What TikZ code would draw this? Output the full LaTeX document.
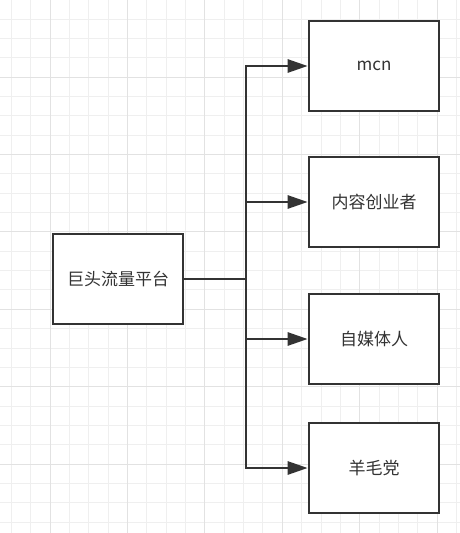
\documentclass[tikz,border=0pt]{standalone}
\usepackage{fontspec}
\setmainfont{Noto Sans CJK SC}
\usetikzlibrary{arrows.meta}
\definecolor{ink}{HTML}{333333}
\definecolor{gridminor}{HTML}{EFEFEF}
\definecolor{gridmajor}{HTML}{E2E2E2}
\begin{document}
\begin{tikzpicture}[x=1pt,y=-1pt,
  box/.style={draw=ink,line width=2.6pt,fill=white,minimum width=130pt,minimum height=90pt,inner sep=0pt,font=\fontsize{17}{20}\selectfont,text=ink},
  conn/.style={draw=ink,line width=2.6pt},
  arr/.style={conn,-{Triangle[length=20pt,width=13pt]}}]
\useasboundingbox (0,0) rectangle (460,533);
\fill[white] (0,0) rectangle (460,533);
% minor grid
\foreach \i in {-1,...,24} {
  \draw[gridminor,line width=0.8pt] ({11.3+19.35*\i},0) -- ({11.3+19.35*\i},533);
}
\foreach \i in {0,...,28} {
  \draw[gridminor,line width=0.8pt] (0,{-0.4+19.35*\i}) -- (460,{-0.4+19.35*\i});
}
% major grid
\foreach \i in {0,...,5} {
  \draw[gridmajor,line width=1pt] ({50+77.4*\i},0) -- ({50+77.4*\i},533);
}
\foreach \i in {0,...,6} {
  \draw[gridmajor,line width=1pt] (0,{77+77.4*\i}) -- (460,{77+77.4*\i});
}
\node[box] (main) at (118,279) {巨头流量平台};
\node[box] (b1) at (374,66) {mcn};
\node[box] (b2) at (374,202) {内容创业者};
\node[box] (b3) at (374,339) {自媒体人};
\node[box] (b4) at (374,468) {羊毛党};
\coordinate (tx) at (246,0);
\draw[conn] (main.east) -- (main.east -| tx);
\draw[arr,line join=miter] (tx |- main.east) |- (b1.west);
\draw[arr,line join=miter] (tx |- main.east) |- (b4.west);
\draw[arr] (tx |- b2.west) -- (b2.west);
\draw[arr] (tx |- b3.west) -- (b3.west);
\end{tikzpicture}
\end{document}
